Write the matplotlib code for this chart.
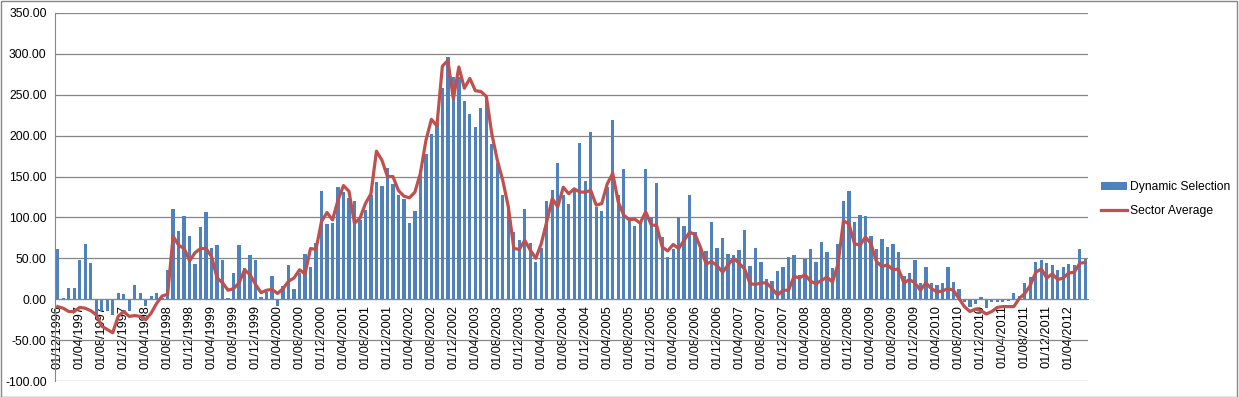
import matplotlib.pyplot as plt
import numpy as np
import pandas as pd

# monthly data, Dec 1996 - Jul 2012
months = pd.date_range("1996-12-01", periods=188, freq="MS")
tick_labels = [m.strftime("%d/%m/%Y") for m in months[::4]]

dynamic_selection = [
    61, 2, 14, 14, 48, 67, 44, -22, -15, -14, -19, 8, 6, -15, 18, 8, -8, 4, 7, 2,
    36, 110, 83, 102, 77, 43, 88, 107, 63, 66, 48, 2, 32, 66, 38, 54, 48, 3, 9, 28,
    -8, 16, 42, 12, 32, 55, 39, 69, 132, 92, 93, 137, 131, 124, 120, 97, 109, 128, 143, 139,
    161, 141, 128, 122, 93, 108, 158, 177, 202, 215, 258, 296, 272, 272, 243, 227, 211, 234, 248, 190,
    167, 128, 114, 82, 72, 110, 69, 46, 63, 120, 133, 166, 128, 117, 133, 191, 144, 204, 113, 108,
    137, 219, 127, 159, 99, 89, 93, 159, 101, 142, 76, 52, 62, 100, 89, 127, 82, 64, 59, 94,
    63, 75, 55, 54, 60, 85, 41, 63, 46, 25, 22, 35, 39, 52, 54, 30, 49, 61, 46, 70,
    58, 38, 67, 120, 132, 94, 103, 102, 77, 61, 74, 64, 67, 58, 28, 32, 48, 20, 39, 20,
    17, 20, 39, 21, 13, -3, -9, -6, 3, -11, -4, -4, -4, -2, 8, 4, 20, 27, 46, 48,
    44, 42, 36, 39, 43, 42, 62, 49,
]

sector_average = [
    -9, -11, -15, -15, -10, -11, -14, -19, -33, -37, -41, -21, -15, -21, -20, -21, -25, -17, -5, 4,
    6, 77, 66, 62, 47, 57, 62, 62, 52, 26, 20, 11, 13, 20, 36, 30, 18, 8, 11, 12,
    7, 13, 22, 26, 36, 31, 62, 61, 95, 106, 97, 121, 139, 132, 93, 99, 117, 129, 181, 170,
    150, 150, 133, 126, 124, 131, 154, 194, 220, 212, 285, 292, 245, 284, 258, 270, 255, 254, 248, 202,
    170, 145, 113, 62, 61, 72, 60, 50, 68, 95, 123, 113, 137, 129, 135, 131, 131, 133, 115, 117,
    141, 154, 119, 103, 97, 98, 93, 107, 91, 90, 64, 59, 67, 62, 72, 82, 79, 63, 43, 46,
    41, 33, 42, 50, 44, 37, 19, 18, 20, 20, 13, 5, 11, 11, 28, 26, 30, 22, 19, 23,
    27, 21, 43, 96, 92, 68, 66, 76, 68, 46, 40, 42, 36, 37, 20, 24, 20, 11, 20, 13,
    9, 10, 13, 11, 1, -9, -15, -12, -14, -18, -15, -10, -9, -9, -9, 1, 7, 17, 33, 37,
    26, 31, 24, 26, 32, 33, 44, 45,
]

plt.rcParams['font.family'] = ['Liberation Sans', 'DejaVu Sans']
grey = '#868686'

fig = plt.figure(figsize=(12.39, 3.97), dpi=100)
ax = fig.add_axes([55/1239, 16/397, 1033/1239, 368/397])

# x axis crosses at zero (set before tick labels, it resets the ticks)
ax.spines['bottom'].set_position(('data', 0))
ax.spines['bottom'].set_color(grey)
ax.spines['left'].set_color(grey)
ax.spines['top'].set_visible(False)
ax.spines['right'].set_visible(False)

x = np.arange(len(months))
bars = ax.bar(x, dynamic_selection, width=0.6, color='#4F81BD', zorder=2)
line, = ax.plot(x, sector_average, color='#C0504D', lw=2.3, zorder=3)

ax.set_xlim(-0.5, len(months) - 0.5)
ax.set_ylim(-100, 350)
ax.set_yticks(np.arange(-100, 351, 50))
ax.set_yticklabels(['%.2f' % v for v in np.arange(-100, 351, 50)], fontsize=8.7)
ax.yaxis.grid(True, color=grey, lw=0.9, zorder=0)
ax.set_axisbelow(True)

ax.set_xticks(x[::4])
ax.set_xticklabels(tick_labels, rotation=90, fontsize=9.2)
ax.tick_params(axis='x', length=0, pad=4)
ax.tick_params(axis='y', length=0, pad=6)

ax.legend([bars, line], ['Dynamic Selection', 'Sector Average'],
          loc='center left', bbox_to_anchor=(1090/1239, 1 - 199/397), bbox_transform=fig.transFigure,
          frameon=False, fontsize=8.7, handlelength=2.2, handletextpad=0.2, labelspacing=1.0)

fig.patches.append(plt.Rectangle((0.0005, 0.001), 0.998, 0.997, transform=fig.transFigure,
                                 fill=False, edgecolor=grey, lw=1))

plt.savefig('out.png', dpi=100)
